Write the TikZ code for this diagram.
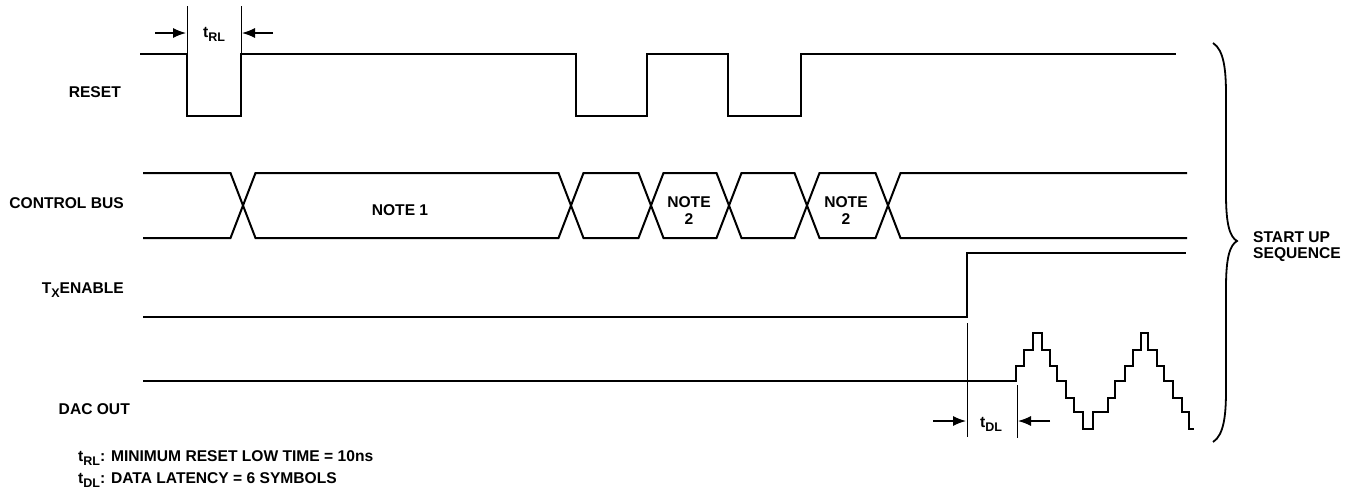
\documentclass[tikz,border=0pt]{standalone}
\usepackage{fontspec}
\setmainfont{Liberation Sans}
\usetikzlibrary{arrows.meta}
\newcommand\subs[1]{\raisebox{-0.3em}{\fontsize{12.5}{12.5}\selectfont #1}}
\begin{document}
\begin{tikzpicture}[x=1pt,y=-1pt,
  sig/.style={line width=2pt,line join=miter},
  dim/.style={line width=1pt},
  dimarrow/.style={line width=1.2pt,-{Latex[length=13pt,width=10pt]}},
  lbl/.style={inner sep=0pt,font=\fontsize{15.6}{16}\selectfont\bfseries},
  brace/.style={line width=1.8pt}]
\useasboundingbox (0,0) rectangle (1354,491);

% labels
\node[lbl,anchor=base east] (lreset) at (121,97) {RESET};
\node[lbl,anchor=base east] (lbus) at (124,208) {CONTROL BUS};
\node[lbl,anchor=base east] (ltx) at (124,293) {T\subs{X}ENABLE};
\node[lbl,anchor=base east] (ldac) at (130,414) {DAC OUT};

% RESET
\draw[sig] (140,53.5) -- (187,53.5) -- (187,116) -- (241,116) -- (241,53.5)
  -- (576,53.5) -- (576,116) -- (647,116) -- (647,53.5) -- (728,53.5)
  -- (728,116) -- (801,116) -- (801,53.5) -- (1176,53.5);

% t_RL dimension
\coordinate (rl1t) at (187,6); \coordinate (rl1b) at (187,53.5);
\coordinate (rl2t) at (241,6); \coordinate (rl2b) at (241,53.5);
\draw[dim] (rl1t) -- (rl1b);
\draw[dim] (rl2t) -- (rl2b);
\coordinate (rla) at (155,33); \coordinate (rlae) at (186,33);
\coordinate (rlb) at (273,33); \coordinate (rlbe) at (242,33);
\draw[dimarrow] (rla) -- (rlae);
\draw[dimarrow] (rlb) -- (rlbe);
\node[lbl,anchor=base west] (trl) at (203,37) {t\subs{RL}};

% CONTROL BUS
\draw[sig] (143,173) -- (230.5,173) -- (255.5,238) -- (558.5,238) -- (583.5,173)
  -- (638.5,173) -- (663.5,238) -- (716.5,238) -- (741.5,173) -- (794.5,173)
  -- (819.5,238) -- (875.5,238) -- (900.5,173) -- (1187,173);
\draw[sig] (143,238) -- (230.5,238) -- (255.5,173) -- (558.5,173) -- (583.5,238)
  -- (638.5,238) -- (663.5,173) -- (716.5,173) -- (741.5,238) -- (794.5,238)
  -- (819.5,173) -- (875.5,173) -- (900.5,238) -- (1187,238);
\node[lbl,anchor=base] (n1) at (400,215) {NOTE 1};
\node[lbl,anchor=base] (n2a) at (689,207) {NOTE};
\node[lbl,anchor=base] (n2a2) at (689,224) {2};
\node[lbl,anchor=base] (n2b) at (846,207) {NOTE};
\node[lbl,anchor=base] (n2b2) at (846,224) {2};

% TX ENABLE
\draw[sig] (143,317) -- (967,317) -- (967,253) -- (1186,253);

% DAC OUT
\draw[sig] (143,381) -- (1016,381) -- (1016,366) -- (1024,366) -- (1024,350)
  -- (1033,350) -- (1033,333) -- (1042,333) -- (1042,350) -- (1050,350)
  -- (1050,366) -- (1057,366) -- (1057,381) -- (1066,381) -- (1066,398)
  -- (1074,398) -- (1074,412) -- (1083,412) -- (1083,429) -- (1093,429)
  -- (1093,412) -- (1108,412) -- (1108,398) -- (1115,398) -- (1115,381)
  -- (1125,381) -- (1125,366) -- (1133,366) -- (1133,350) -- (1141,350)
  -- (1141,333) -- (1148,333) -- (1148,350) -- (1157,350) -- (1157,366)
  -- (1164,366) -- (1164,381) -- (1173,381) -- (1173,398) -- (1182,398)
  -- (1182,412) -- (1189,412) -- (1189,429) -- (1194,429);

% t_DL dimension
\coordinate (dl1t) at (967,323); \coordinate (dl1b) at (967,437);
\coordinate (dl2t) at (1017,385); \coordinate (dl2b) at (1017,438);
\draw[dim] (dl1t) -- (dl1b);
\draw[dim] (dl2t) -- (dl2b);
\coordinate (dla) at (933,421); \coordinate (dlae) at (966,421);
\coordinate (dlb) at (1050,421); \coordinate (dlbe) at (1018,421);
\draw[dimarrow] (dla) -- (dlae);
\draw[dimarrow] (dlb) -- (dlbe);
\node[lbl,anchor=base west] (tdl) at (980,427) {t\subs{DL}};

% brace
\draw[brace] (1213,43) .. controls (1224,50) and (1226,70) .. (1226,95)
  -- (1226,195) .. controls (1226,225) and (1230,237) .. (1237,241)
  .. controls (1230,245) and (1226,257) .. (1226,287)
  -- (1226,390) .. controls (1226,415) and (1224,435) .. (1213,442);
\node[lbl,anchor=base west] (su1) at (1253,242) {START UP};
\node[lbl,anchor=base west] (su2) at (1253,258) {SEQUENCE};

% footnotes
\node[lbl,anchor=base west] (f1) at (78,461) {t\subs{RL}: MINIMUM RESET LOW TIME = 10ns};
\node[lbl,anchor=base west] (f2) at (78,483) {t\subs{DL}: DATA LATENCY = 6 SYMBOLS};
\end{tikzpicture}
\end{document}
